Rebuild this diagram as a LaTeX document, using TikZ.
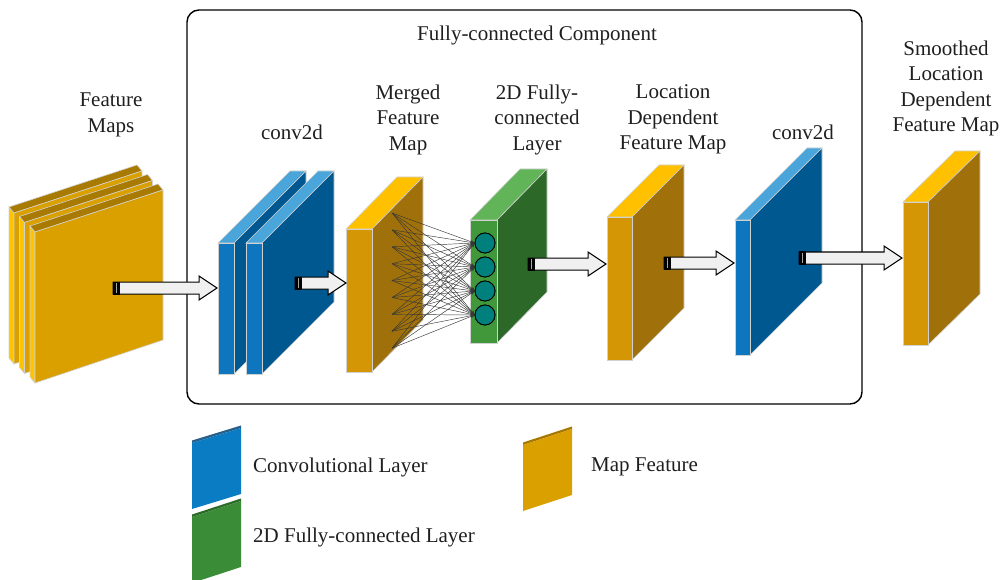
\documentclass[tikz,border=0pt]{standalone}
\usepackage{fontspec}
\setmainfont{Liberation Serif}
\usetikzlibrary{arrows.meta,calc}

% slab colours
\definecolor{bluF}{RGB}{14,118,190}
\definecolor{bluS}{RGB}{0,88,144}
\definecolor{bluT}{RGB}{74,166,218}
\definecolor{orF}{RGB}{212,150,4}
\definecolor{orS}{RGB}{160,113,10}
\definecolor{orT}{RGB}{255,192,0}
\definecolor{grF}{RGB}{64,152,58}
\definecolor{grS}{RGB}{44,104,40}
\definecolor{grT}{RGB}{98,180,88}
\definecolor{yelF}{RGB}{218,160,0}
\definecolor{yelL}{RGB}{255,196,0}
\definecolor{yelD}{RGB}{168,122,0}
\definecolor{unitC}{RGB}{0,128,124}
\definecolor{legB}{RGB}{10,124,196}
\definecolor{legBs}{RGB}{40,94,136}
\definecolor{legG}{RGB}{58,140,54}
\definecolor{legGs}{RGB}{44,106,40}
\definecolor{legO}{RGB}{217,160,0}
\definecolor{legOs}{RGB}{166,120,0}

\tikzset{
  edge/.style={draw=black!18, line width=0.6pt},
  lbl/.style={font=\fontsize{21}{25.5}\selectfont, text=black!88, align=center, inner sep=0pt},
  legtxt/.style={lbl, anchor=west},
  unit/.style={circle, draw=black, line width=0.8pt, fill=unitC, minimum size=20pt, inner sep=0pt},
  link/.style={draw=black!78, line width=0.45pt, -{Stealth[length=4pt,width=3.5pt]}},
  frame/.style={draw=black, line width=1.4pt, rounded corners=12pt},
}

% box slab: front x, front top y, front width, height, depth dx, depth dy, front/side/top colours
\newcommand{\slabbox}[9]{%
  \filldraw[edge,fill=#9] (#1,#2) -- ++(#5,-#6) -- ++(#3,0) -- ++(-#5,#6) -- cycle;
  \filldraw[edge,fill=#8] (#1+#3,#2) -- ++(#5,-#6) -- ++(0,#4) -- ++(-#5,#6) -- cycle;
  \filldraw[edge,fill=#7] (#1,#2) rectangle ++(#3,#4);
}
% sheared input slab, given its front top-left corner
\newcommand{\inslab}[2]{%
  \filldraw[edge,fill=yelL] (#1,#2) -- ++(0,151) -- ++(-5,-6) -- ++(0,-151) -- cycle;
  \filldraw[edge,fill=yelD] (#1,#2) -- ++(128,-42) -- ++(-5,-6) -- ++(-128,42) -- cycle;
  \filldraw[edge,fill=yelF] (#1,#2) -- ++(128,-42) -- ++(0,150) -- ++(-128,43) -- cycle;
}
% block arrow from a tail coordinate to a tip coordinate (same height)
\newcommand{\flowarrow}[2]{%
  \draw[line width=1pt, fill=black!6] let \p1=(#1), \p2=(#2) in
    (\x1,\y1+6pt) -- (\x2-18pt,\y1+6pt) -- (\x2-18pt,\y1+12pt) -- (\x2,\y1)
    -- (\x2-18pt,\y1-12pt) -- (\x2-18pt,\y1-6pt) -- (\x1,\y1-6pt) -- cycle;
  \fill[black] let \p1=(#1) in (\x1,\y1-6.5pt) rectangle (\x1+7pt,\y1+6.5pt);
  \draw[black!35, line width=1.4pt] let \p1=(#1) in (\x1+3.5pt,\y1-5pt) -- (\x1+3.5pt,\y1+5pt);
}

\begin{document}
\begin{tikzpicture}[x=1pt, y=-1pt]
\useasboundingbox (0,0) rectangle (1004,580);

% component frame
\draw[frame] (187,10) rectangle (862,404);
\node[lbl] (title) at (537,35.5) {Fully-connected Component};

% input feature maps
\inslab{14}{213}
\inslab{24.5}{222.5}
\inslab{35}{232}

% convolution pair
\slabbox{218}{243}{16}{131}{72}{72}{bluF}{bluS}{bluT}
\slabbox{246}{243}{16}{131}{72}{72}{bluF}{bluS}{bluT}

% merged feature map
\slabbox{346}{229}{26}{143}{51}{52}{orF}{orS}{orT}

% 2D fully-connected layer
\slabbox{470}{220}{27}{123}{50}{51}{grF}{grS}{grT}

% location dependent feature map
\slabbox{607}{217}{25}{143}{52}{52}{orF}{orS}{orT}

% second convolution
\slabbox{735}{220}{15}{135}{72}{72}{bluF}{bluS}{bluT}

% smoothed output map
\slabbox{903}{202}{25}{143}{52}{51}{orF}{orS}{orT}

% fully-connected links
\foreach \i in {1,...,9} {
  \coordinate (m\i) at (392,{213+16.9*(\i-1)});
}
\foreach \j/\yy in {1/243,2/267,3/291,4/315} {
  \node[unit] (u\j) at (485,\yy) {};
}
\foreach \i in {1,...,9} {
  \foreach \j in {1,...,4} {
    \draw[link] (m\i) -- (u\j.west);
  }
}
\foreach \j in {1,...,4} { \node[unit] at (u\j) {}; }

% flow arrows
\coordinate (fmOut) at (113,288);  \coordinate (convIn) at (217,288);
\coordinate (convOut) at (295,283); \coordinate (mergeIn) at (346,283);
\coordinate (fcOut) at (528,264);   \coordinate (locIn) at (606,264);
\coordinate (locOut) at (664,263);  \coordinate (conv2In) at (734,263);
\coordinate (conv2Out) at (799,258); \coordinate (smIn) at (902,258);
\flowarrow{fmOut}{convIn}
\flowarrow{convOut}{mergeIn}
\flowarrow{fcOut}{locIn}
\flowarrow{locOut}{conv2In}
\flowarrow{conv2Out}{smIn}

% labels
\node[lbl] (lFm) at (111,115) {Feature\\Maps};
\node[lbl] (lConv) at (292,132.5) {conv2d};
\node[lbl] (lMerge) at (408,119.5) {Merged\\Feature\\Map};
\node[lbl] (lFc) at (537,119.5) {2D Fully-\\connected\\Layer};
\node[lbl] (lLoc) at (673,119.5) {Location\\Dependent\\Feature Map};
\node[lbl] (lConv2) at (803,132.5) {conv2d};
\node[lbl] (lSm) at (946,88.5) {Smoothed\\Location\\Dependent\\Feature Map};

% legend
\begin{scope}
\clip (0,0) rectangle (1004,580);
\fill[legBs] (192,440.5) -- (241,425.5) -- (241,428) -- (192,443) -- cycle;
\fill[legB] (192,443) -- (241,428) -- (241,494) -- (192,509) -- cycle;
\fill[legGs] (192,514.5) -- (241,498.5) -- (241,501) -- (192,517) -- cycle;
\fill[legG] (192,517) -- (241,501) -- (241,567) -- (192,583) -- cycle;
\fill[legOs] (523,442.5) -- (572,426.5) -- (572,429) -- (523,445) -- cycle;
\fill[legO] (523,445) -- (572,429) -- (572,495) -- (523,511) -- cycle;
\end{scope}
\node[legtxt] (kConv) at (253,467) {Convolutional Layer};
\node[legtxt] (kFc) at (253,537) {2D Fully-connected Layer};
\node[legtxt] (kMap) at (591,467) {Map Feature};
\end{tikzpicture}
\end{document}
